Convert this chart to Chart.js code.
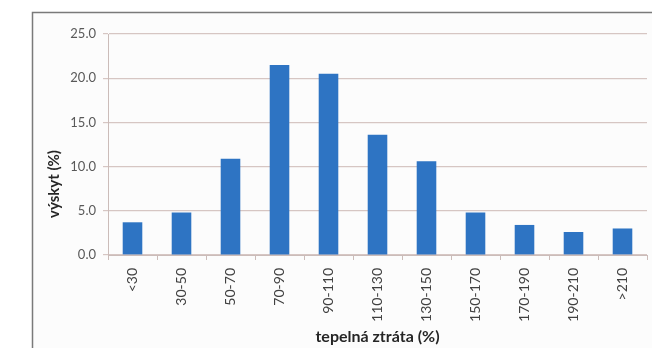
<!DOCTYPE html>
<html>
<head>
<meta charset="utf-8">
<script src="https://cdn.jsdelivr.net/npm/chart.js@4/dist/chart.umd.min.js"></script>
<style>
  html, body { margin: 0; padding: 0; background: #fff; }
  #wrap { width: 652px; height: 348px; }
</style>
</head>
<body>
<div id="wrap"><canvas id="vyskytChart" width="652" height="348"></canvas></div>
<script>
const kategorie = ['<30', '30-50', '50-70', '70-90', '90-110', '110-130', '130-150', '150-170', '170-190', '190-210', '>210'];
const vyskyt = [3.7, 4.8, 10.9, 21.5, 20.5, 13.6, 10.6, 4.8, 3.4, 2.6, 3.0];
const osaYTicks = [0, 5, 10, 15, 20, 25];

const textFont = 'Lato, "Open Sans", sans-serif';

// ramecek a popis osy Y (kresleno rucne kvuli pozici)
const ramecek = {
  id: 'ramecek',
  beforeDraw(chart) {
    const c = chart.ctx;
    c.save();
    c.fillStyle = '#fcfcfc';
    c.fillRect(32, 12, chart.width - 32, chart.height - 12);
    c.strokeStyle = '#7a7a7a';
    c.lineWidth = 1.5;
    c.beginPath();
    c.moveTo(32.5, chart.height);
    c.lineTo(32.5, 12.5);
    c.lineTo(chart.width, 12.5);
    c.stroke();
    c.restore();
  },
  afterDraw(chart) {
    const c = chart.ctx;
    const a = chart.chartArea;
    c.save();
    c.translate(54, a.bottom - 71);
    c.rotate(-Math.PI / 2);
    c.font = 'bold 15px ' + textFont;
    c.fillStyle = '#262626';
    c.textAlign = 'center';
    c.textBaseline = 'middle';
    c.fillText('výskyt (%)', 0, 0);
    c.restore();
  }
};

const ctx = document.getElementById('vyskytChart');
const vyskytChart = new Chart(ctx, {
  type: 'bar',
  data: {
    labels: kategorie,
    datasets: [{
      label: 'výskyt (%)',
      data: vyskyt,
      backgroundColor: '#2e74c3',
      borderWidth: 0,
      barPercentage: 0.4,
      categoryPercentage: 1.0
    }]
  },
  options: {
    responsive: false,
    animation: false,
    layout: {
      padding: { left: 0, top: 34, right: 5, bottom: 0 }
    },
    plugins: {
      legend: { display: false },
      tooltip: { enabled: false }
    },
    scales: {
      x: {
        offset: true,
        grid: {
          display: true,
          drawOnChartArea: false,
          offset: true,
          tickLength: 5,
          color: '#cbbcb9'
        },
        border: { color: '#cbbcb9', width: 1 },
        ticks: {
          minRotation: 90,
          maxRotation: 90,
          padding: 8,
          color: '#404040',
          font: { family: textFont, size: 14 }
        },
        title: {
          display: true,
          text: 'tepelná ztráta (%)',
          color: '#262626',
          padding: { top: 0, bottom: 2 },
          font: { family: textFont, size: 16, weight: 'bold' }
        },
        afterFit(scale) { scale.height = 93; }
      },
      y: {
        min: 0,
        max: 25,
        afterBuildTicks(scale) {
          scale.ticks = osaYTicks.map(v => ({ value: v }));
        },
        grid: {
          color: '#d6c6c3',
          lineWidth: 1.2,
          tickLength: 5
        },
        border: { color: '#cbbcb9', width: 1 },
        ticks: {
          padding: 7,
          color: '#595959',
          font: { family: textFont, size: 13 },
          callback: v => Number(v).toFixed(1)
        },
        afterFit(scale) { scale.width = 108; }
      }
    }
  },
  plugins: [ramecek]
});
</script>
</body>
</html>
